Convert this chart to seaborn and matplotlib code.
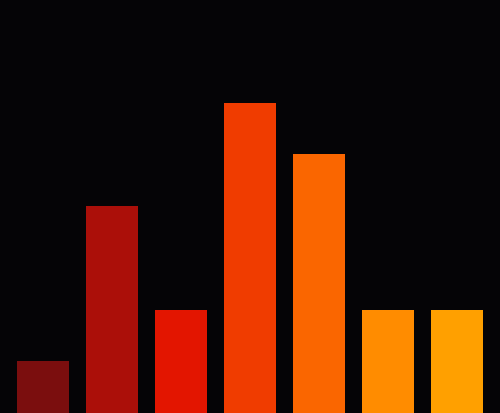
import matplotlib

matplotlib.use("Agg")
import matplotlib.pyplot as plt
import pandas as pd
import seaborn as sns

categories = ["A", "B", "C", "D", "E", "F", "G"]
values = [1, 4, 2, 6, 5, 2, 2]
bar_colors = ["#7b0e0e", "#ab0f09", "#e31500", "#f03c00", "#fa6600", "#ff8c00", "#ffa000"]

df = pd.DataFrame({"category": categories, "value": values})

bg = "#050406"
fig, ax = plt.subplots(figsize=(5.0, 4.14), dpi=100)
fig.patch.set_facecolor(bg)
ax.set_facecolor(bg)
fig.subplots_adjust(left=0, right=1, bottom=0, top=1)

sns.barplot(data=df, x="category", y="value", hue="category",
            palette=bar_colors, legend=False, width=0.75,
            saturation=1, ax=ax)

ax.set_xlim(-0.625, 6.625)
ax.set_ylim(0, 8.0)
ax.axis("off")

fig.savefig("out.png", dpi=100, facecolor=bg)
plt.close(fig)
